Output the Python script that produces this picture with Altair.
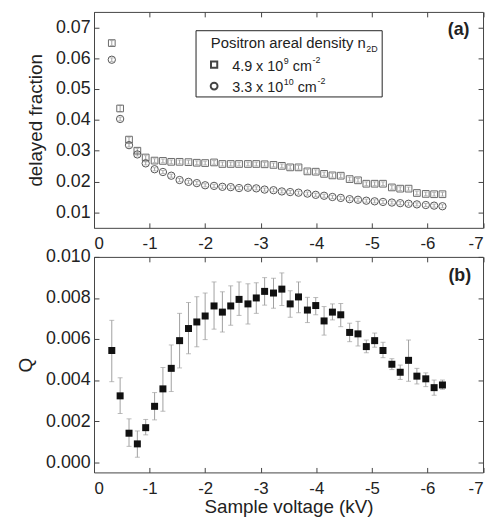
import altair as alt
import pandas as pd

# ---------------- data ----------------
voltage_kv = [-0.32, -0.47, -0.63, -0.78, -0.93, -1.09, -1.24, -1.39, -1.54, -1.70,
              -1.85, -2.00, -2.16, -2.31, -2.46, -2.61, -2.77, -2.92, -3.07, -3.23,
              -3.38, -3.53, -3.68, -3.84, -3.99, -4.14, -4.29, -4.44, -4.60, -4.75,
              -4.90, -5.05, -5.20, -5.36, -5.51, -5.66, -5.81, -5.97, -6.12, -6.27]

# delayed fraction, n2D = 4.9e9 cm^-2 (open squares)
frac_49e9 = [0.0649, 0.0437, 0.0336, 0.0300, 0.0278, 0.0268, 0.0267, 0.0264, 0.0264, 0.0263,
             0.0261, 0.0260, 0.0262, 0.0257, 0.0257, 0.0257, 0.0257, 0.0257, 0.0256, 0.0254,
             0.0251, 0.0246, 0.0246, 0.0233, 0.0232, 0.0225, 0.0220, 0.0219, 0.0208, 0.0204,
             0.0193, 0.0193, 0.0193, 0.0181, 0.0177, 0.0177, 0.0163, 0.0160, 0.0159, 0.0159]
err_49e9 = [0.0008, 0.0010, 0.0008, 0.0007, 0.0006, 0.0006, 0.0006, 0.0006, 0.0006, 0.0006,
            0.0006, 0.0006, 0.0006, 0.0006, 0.0006, 0.0006, 0.0006, 0.0006, 0.0006, 0.0006,
            0.0006, 0.0006, 0.0006, 0.0006, 0.0006, 0.0006, 0.0006, 0.0006, 0.0006, 0.0006,
            0.0006, 0.0006, 0.0006, 0.0006, 0.0006, 0.0005, 0.0006, 0.0006, 0.0006, 0.0006]

# delayed fraction, n2D = 3.3e10 cm^-2 (open circles)
frac_33e10 = [0.0595, 0.0403, 0.0318, 0.0288, 0.0259, 0.0240, 0.0231, 0.0219, 0.0205, 0.0199,
              0.0195, 0.0188, 0.0186, 0.0183, 0.0182, 0.0179, 0.0180, 0.0178, 0.0174, 0.0172,
              0.0168, 0.0166, 0.0164, 0.0161, 0.0157, 0.0154, 0.0150, 0.0147, 0.0143, 0.0141,
              0.0138, 0.0136, 0.0134, 0.0132, 0.0130, 0.0128, 0.0126, 0.0124, 0.0122, 0.0120]
err_33e10 = [0.0006, 0.0006, 0.0006, 0.0005, 0.0005, 0.0005, 0.0005, 0.0005, 0.0005, 0.0005,
             0.0005, 0.0005, 0.0005, 0.0005, 0.0005, 0.0005, 0.0005, 0.0005, 0.0005, 0.0005,
             0.0005, 0.0005, 0.0005, 0.0005, 0.0005, 0.0005, 0.0005, 0.0005, 0.0005, 0.0005,
             0.0005, 0.0005, 0.0005, 0.0005, 0.0005, 0.0005, 0.0005, 0.0005, 0.0005, 0.0005]

# Q with error bar limits
q_values = [0.00544, 0.00323, 0.00141, 0.00089, 0.00168, 0.00272, 0.00357, 0.00457, 0.00592, 0.00651,
            0.00683, 0.00712, 0.00761, 0.00731, 0.00761, 0.00793, 0.00771, 0.00800, 0.00832, 0.00824,
            0.00843, 0.00771, 0.00805, 0.00741, 0.00763, 0.00688, 0.00731, 0.00718, 0.00632, 0.00625,
            0.00563, 0.00592, 0.00544, 0.00477, 0.00438, 0.00496, 0.00419, 0.00406, 0.00363, 0.00376]
q_lower = [0.00392, 0.00237, 0.00077, 0.00024, 0.00133, 0.00206, 0.00248, 0.00344, 0.00459, 0.00528,
           0.00562, 0.00597, 0.00648, 0.00634, 0.00667, 0.00715, 0.00673, 0.00725, 0.00765, 0.00750,
           0.00763, 0.00706, 0.00728, 0.00680, 0.00718, 0.00619, 0.00693, 0.00660, 0.00587, 0.00566,
           0.00533, 0.00560, 0.00509, 0.00451, 0.00403, 0.00394, 0.00381, 0.00368, 0.00326, 0.00355]
q_upper = [0.00691, 0.00411, 0.00211, 0.00152, 0.00208, 0.00339, 0.00461, 0.00571, 0.00725, 0.00778,
           0.00806, 0.00824, 0.00878, 0.00830, 0.00859, 0.00878, 0.00869, 0.00874, 0.00899, 0.00896,
           0.00922, 0.00835, 0.00878, 0.00803, 0.00802, 0.00758, 0.00771, 0.00773, 0.00677, 0.00686,
           0.00595, 0.00629, 0.00584, 0.00504, 0.00473, 0.00595, 0.00457, 0.00435, 0.00400, 0.00400]

x_ticks = [0, -1, -2, -3, -4, -5, -6, -7]
frac_ticks = [0.01, 0.02, 0.03, 0.04, 0.05, 0.06, 0.07]
q_ticks = [0.000, 0.002, 0.004, 0.006, 0.008, 0.010]

# ---------------- styling ----------------
FONT = "Liberation Sans"
AX = "#444444"
TXT = "#222222"
ERR = "#a0a0a0"
W = 393.5
HT = 218.4
HB = 218

XS = alt.Scale(domain=[-7, 0], reverse=True, nice=False, zero=False)
YT = alt.Scale(domain=[0.005, 0.075], nice=False, zero=False)
YB = alt.Scale(domain=[-0.0005, 0.010], nice=False, zero=False)

LABEL_EXPR = "datum.value == 0 ? '0' : '-' + format(abs(datum.value), 'd')"


def x_label_axis(title):
    kw = dict(orient="bottom", values=x_ticks, labelExpr=LABEL_EXPR, tickSize=5, offset=-5,
              domain=False, labelPadding=8, labelFontSize=17, tickColor=AX, labelColor=TXT)
    if title:
        kw.update(title=title, titleFontSize=19, titlePadding=2, titleColor=TXT,
                  titleFontWeight="normal")
    else:
        kw.update(title=None)
    return alt.Axis(**kw)


def x_tick_axis():
    return alt.Axis(orient="top", values=x_ticks, tickSize=5, offset=-5, labels=False,
                    domain=False, tickColor=AX, title=None)


def y_label_axis(title, ticks, fmt):
    return alt.Axis(orient="left", values=ticks, format=fmt, tickSize=5, offset=-5,
                    domain=False, labelPadding=4, labelFontSize=18, labelColor=TXT,
                    tickColor=AX, title=title, titleFontSize=19, titlePadding=10,
                    titleColor=TXT, titleFontWeight="normal")


def y_tick_axis(ticks):
    return alt.Axis(orient="right", values=ticks, tickSize=5, offset=-5, labels=False,
                    domain=False, tickColor=AX, title=None)


def txt(s, x, y, size, align="left", weight="normal"):
    return alt.Chart(pd.DataFrame({"t": [s]})).mark_text(
        align=align, baseline="alphabetic", fontSize=size, font=FONT,
        fontWeight=weight, color=TXT
    ).encode(text="t:N", x=alt.value(x), y=alt.value(y))


# ---------------- top panel ----------------
sq = pd.DataFrame({"v": voltage_kv, "f": frac_49e9,
                   "lo": [f - e for f, e in zip(frac_49e9, err_49e9)],
                   "hi": [f + e for f, e in zip(frac_49e9, err_49e9)]})
ci = pd.DataFrame({"v": voltage_kv, "f": frac_33e10,
                   "lo": [f - e for f, e in zip(frac_33e10, err_33e10)],
                   "hi": [f + e for f, e in zip(frac_33e10, err_33e10)]})

top_layers = [
    alt.Chart(sq).mark_rule(color=ERR, strokeWidth=1).encode(
        x=alt.X("v:Q", scale=XS, axis=x_label_axis(None)),
        y=alt.Y("lo:Q", scale=YT, axis=y_label_axis("delayed fraction", frac_ticks, ".2f")),
        y2="hi:Q"),
    alt.Chart(ci).mark_rule(color=ERR, strokeWidth=1).encode(
        x=alt.X("v:Q", scale=XS, axis=x_tick_axis()),
        y=alt.Y("lo:Q", scale=YT, axis=y_tick_axis(frac_ticks)),
        y2="hi:Q"),
]
for d in (sq, ci):
    for fld in ("lo", "hi"):
        top_layers.append(
            alt.Chart(d).mark_tick(orient="horizontal", size=4, thickness=1, color=ERR).encode(
                x=alt.X("v:Q", scale=XS, axis=None),
                y=alt.Y(f"{fld}:Q", scale=YT, axis=None)))
top_layers.append(
    alt.Chart(sq).mark_point(shape="square", filled=False, size=46, color="#6a6a6a",
                             strokeWidth=1, opacity=1).encode(
        x=alt.X("v:Q", scale=XS, axis=None), y=alt.Y("f:Q", scale=YT, axis=None)))
top_layers.append(
    alt.Chart(ci).mark_point(shape="circle", filled=False, size=55, color="#555555",
                             strokeWidth=1, opacity=1).encode(
        x=alt.X("v:Q", scale=XS, axis=None), y=alt.Y("f:Q", scale=YT, axis=None)))

# legend box
top_layers.append(
    alt.Chart(pd.DataFrame({"k": [0]})).mark_rect(fill="white", stroke="#222222",
                                                  strokeWidth=1).encode(
        x=alt.value(103.2), x2=alt.value(291.5), y=alt.value(19), y2=alt.value(86)))
top_layers.append(
    alt.Chart(pd.DataFrame({"k": [0]})).mark_point(shape="square", filled=False, size=40,
                                                   color="#444444", opacity=1).encode(
        x=alt.value(121.5), y=alt.value(53.4)))
top_layers.append(
    alt.Chart(pd.DataFrame({"k": [0]})).mark_point(shape="circle", filled=False, size=48,
                                                   color="#444444", opacity=1).encode(
        x=alt.value(121.5), y=alt.value(75)))
top_layers += [
    txt("Positron areal density n", 118.2, 36.7, 15),
    txt("2D", 275.5, 40.5, 9),
    txt("4.9 x 10", 139.8, 60, 14.5),
    txt("9", 192, 52.5, 9),
    txt("cm", 201, 60, 14.5),
    txt("-2", 221, 52, 9),
    txt("3.3 x 10", 139.8, 81, 14.5),
    txt("10", 192, 73.5, 9),
    txt("cm", 206, 81, 14.5),
    txt("-2", 226, 73, 9),
    txt("(a)", 379.8, 23.5, 18, align="right", weight="bold"),
]

top = alt.layer(*top_layers).resolve_axis(x="independent", y="independent").properties(
    width=W, height=HT)

# ---------------- bottom panel ----------------
qd = pd.DataFrame({"v": voltage_kv, "q": q_values, "lo": q_lower, "hi": q_upper})

bot_layers = [
    alt.Chart(qd).mark_rule(color=ERR, strokeWidth=1).encode(
        x=alt.X("v:Q", scale=XS, axis=x_label_axis("Sample voltage (kV)")),
        y=alt.Y("lo:Q", scale=YB, axis=y_label_axis("Q", q_ticks, ".3f")),
        y2="hi:Q"),
    alt.Chart(qd).mark_tick(orient="horizontal", size=5, thickness=1, color=ERR).encode(
        x=alt.X("v:Q", scale=XS, axis=x_tick_axis()),
        y=alt.Y("lo:Q", scale=YB, axis=y_tick_axis(q_ticks))),
    alt.Chart(qd).mark_tick(orient="horizontal", size=5, thickness=1, color=ERR).encode(
        x=alt.X("v:Q", scale=XS, axis=None),
        y=alt.Y("hi:Q", scale=YB, axis=None)),
    alt.Chart(qd).mark_point(shape="square", filled=True, size=50, color="#111111",
                             opacity=1).encode(
        x=alt.X("v:Q", scale=XS, axis=None), y=alt.Y("q:Q", scale=YB, axis=None)),
    txt("(b)", 381.5, 24.5, 18, align="right", weight="bold"),
]

bottom = alt.layer(*bot_layers).resolve_axis(x="independent", y="independent").properties(
    width=W, height=HB)

chart = alt.vconcat(top, bottom, spacing=28.8, bounds="flush").properties(
    padding={"left": 8, "top": 0, "right": 0, "bottom": 2}
).configure(font=FONT).configure_view(stroke=AX, strokeWidth=1).configure_axis(grid=False)

chart.save("out.html", embed_options={"renderer": "svg", "actions": False})
